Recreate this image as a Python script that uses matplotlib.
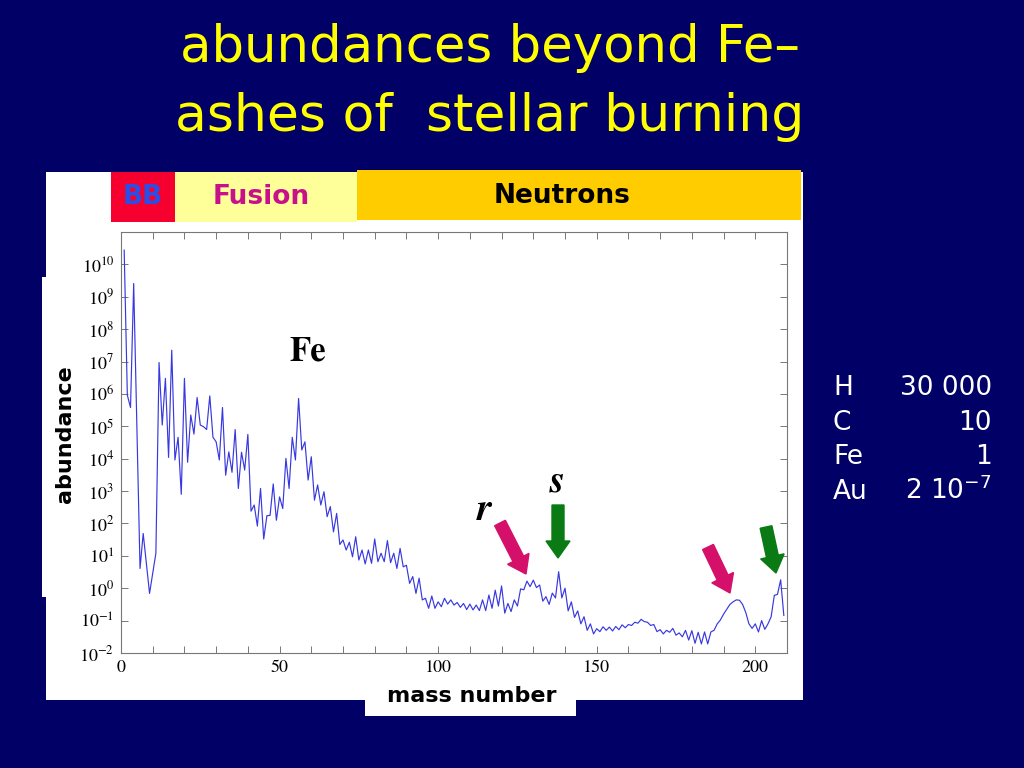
import matplotlib
matplotlib.use('Agg')
import matplotlib.pyplot as plt
from matplotlib.patches import Rectangle, FancyArrow
from matplotlib.ticker import MultipleLocator, FixedLocator, NullLocator

# 质量数 A (A=5, 8 没有稳定核)
mass_number = [1, 2, 3, 4, 6, 7] + list(range(9, 210))

# log10(丰度), Si = 10^6
log_abundance = [
    10.44, 5.96, 5.58, 9.41, 0.61, 1.69,
    -0.16, 0.45, 1.08, 6.97, 5.04, 6.48, 4.04, 7.35, 3.96, 4.66,
    2.90, 6.48, 3.89, 5.35, 4.76, 5.89, 5.04, 4.99, 4.90, 5.94,
    4.66, 4.52, 3.96, 5.58, 3.49, 4.21, 3.58, 4.90, 3.08, 4.20,
    3.65, 4.75, 2.38, 2.57, 1.92, 3.08, 1.52, 2.24, 2.25, 3.22,
    2.10, 2.82, 2.46, 4.01, 3.08, 4.66, 3.96, 5.86, 4.27, 4.52,
    3.34, 4.06, 2.72, 3.19, 2.57, 2.98, 2.21, 2.52, 1.74, 2.31,
    1.35, 1.49, 1.18, 1.42, 0.97, 1.59, 0.87, 1.18, 0.75, 1.18,
    0.77, 1.52, 0.82, 1.08, 0.82, 1.47, 0.79, 1.08, 0.61, 1.23,
    0.66, 0.71, 0.15, 0.36, -0.16, 0.31, -0.36, -0.31, -0.62, -0.24,
    -0.62, -0.42, -0.57, -0.31, -0.49, -0.36, -0.52, -0.44, -0.59, -0.47,
    -0.66, -0.49, -0.67, -0.52, -0.69, -0.36, -0.69, -0.21, -0.62, -0.06,
    -0.55, 0.07, -0.77, -0.47, -0.72, -0.36, -0.55, -0.02, -0.05, 0.22,
    0.05, 0.25, 0.02, 0.10, -0.40, -0.26, -0.50, -0.15, -0.30, 0.51,
    -0.30, 0.00, -0.70, -0.42, -0.90, -0.70, -1.10, -0.88, -1.30, -1.10,
    -1.41, -1.25, -1.34, -1.19, -1.30, -1.20, -1.32, -1.18, -1.28, -1.13,
    -1.22, -1.12, -1.15, -1.05, -1.08, -0.96, -1.03, -1.05, -1.15, -1.12,
    -1.34, -1.28, -1.41, -1.30, -1.36, -1.24, -1.45, -1.38, -1.50, -1.30,
    -1.60, -1.31, -1.70, -1.36, -1.72, -1.35, -1.72, -1.35, -1.30, -1.10,
    -0.98, -0.80, -0.65, -0.50, -0.42, -0.36, -0.37, -0.50, -0.75, -1.10,
    -1.24, -1.10, -1.35, -1.00, -1.27, -1.10, -0.88, -0.22, -0.19, 0.26,
    -0.84,
]

y_exponents = list(range(-2, 11))
x_labels = [0, 50, 100, 150, 200]

# 右侧表格
table_elements = ['H', 'C', 'Fe', 'Au']
table_values = ['30 000', '10', '1', r'2 $\mathregular{10^{-7}}$']

plt.rcParams['mathtext.fontset'] = 'stix'

W, H = 1024, 768
fig = plt.figure(figsize=(W / 100, H / 100), dpi=100, facecolor='#000066')


def box(x0, y0, x1, y1, color, z=-1):
    # 像素坐标 (左上角为原点)
    fig.add_artist(Rectangle((x0 / 100, (H - y1) / 100), (x1 - x0) / 100, (y1 - y0) / 100,
                             facecolor=color, edgecolor='none', zorder=z,
                             transform=fig.dpi_scale_trans))


def arrow(x0, y0, x1, y1, color):
    fig.add_artist(FancyArrow(x0 / 100, (H - y0) / 100, (x1 - x0) / 100, (y0 - y1) / 100,
                              width=0.12, head_width=0.24, head_length=0.17,
                              length_includes_head=True, color=color, zorder=5,
                              transform=fig.dpi_scale_trans))


def txt(x, y, s, **kw):
    return fig.text(x / W, 1 - y / H, s, **kw)


# 白色底板
box(46, 172, 803, 700, 'white')
box(42, 277, 46, 597, 'white')
box(365, 690, 576, 716, 'white')

# 顶部色带
box(111, 172, 175, 222, '#f5002f', z=2)
box(175, 172, 357, 222, '#ffff99', z=2)
box(357, 170, 801, 220, '#ffcc00', z=2)
txt(143, 197, 'BB', color='#2a4fe6', fontsize=19, fontweight='bold', ha='center', va='center', zorder=3)
txt(261, 197, 'Fusion', color='#c8108c', fontsize=19, fontweight='bold', ha='center', va='center', zorder=3)
txt(562, 196, 'Neutrons', color='black', fontsize=19, fontweight='bold', ha='center', va='center', zorder=3)

# 标题
txt(490, 62, 'abundances beyond Fe\u2013', color='#ffff00', fontsize=37, ha='center', va='baseline')
txt(490, 131, 'ashes of  stellar burning', color='#ffff00', fontsize=37.5, ha='center', va='baseline')

# 主图
ax = fig.add_axes([121 / W, 1 - 653 / H, (787 - 121) / W, (653 - 232) / H])
ax.plot(mass_number, [10.0 ** v for v in log_abundance], color='#3838e0', lw=0.85)
ax.set_yscale('log')
ax.set_xlim(0, 210)
ax.set_ylim(1e-2, 1e11)

ax.yaxis.set_major_locator(FixedLocator([10.0 ** k for k in y_exponents]))
ax.yaxis.set_minor_locator(NullLocator())
ax.set_yticklabels([r'$10^{%d}$' % k for k in y_exponents])
ax.xaxis.set_major_locator(FixedLocator(x_labels))
ax.set_xticklabels([str(v) for v in x_labels])
ax.xaxis.set_minor_locator(MultipleLocator(10))

for s in ax.spines.values():
    s.set_color('#777777')
    s.set_linewidth(0.8)
ax.tick_params(which='both', direction='in', length=5, width=0.7, color='#777777',
               top=True, right=True, labelsize=13, pad=5)
for lab in ax.get_xticklabels() + ax.get_yticklabels():
    lab.set_family('STIXGeneral')

txt(65, 434, 'abundance', rotation=90, fontsize=16, fontweight='bold', ha='center', va='center')
txt(472, 696, 'mass number', fontsize=16, fontweight='bold', ha='center', va='center', zorder=3)

# 注释
txt(308, 352, 'Fe', family='STIXGeneral', fontsize=25, fontweight='bold', ha='center', va='center')
txt(484, 510, 'r', family='STIXGeneral', fontsize=28, fontweight='bold', style='italic', ha='center', va='center')
txt(557, 482, 's', family='STIXGeneral', fontsize=28, fontweight='bold', style='italic', ha='center', va='center')

arrow(500, 523, 526, 574, '#d4106a')
arrow(558, 505, 558, 558, '#0a7a14')
arrow(708, 547, 730, 593, '#d4106a')
arrow(766, 527, 776, 573, '#0a7a14')

# 右侧表格
for i, (el, val) in enumerate(zip(table_elements, table_values)):
    yb = 395 + i * 34.7
    txt(833, yb, el, color='white', fontsize=19, ha='left', va='baseline')
    txt(992, yb, val, color='white', fontsize=19, ha='right', va='baseline')

fig.savefig('out.png', dpi=100, facecolor=fig.get_facecolor())
